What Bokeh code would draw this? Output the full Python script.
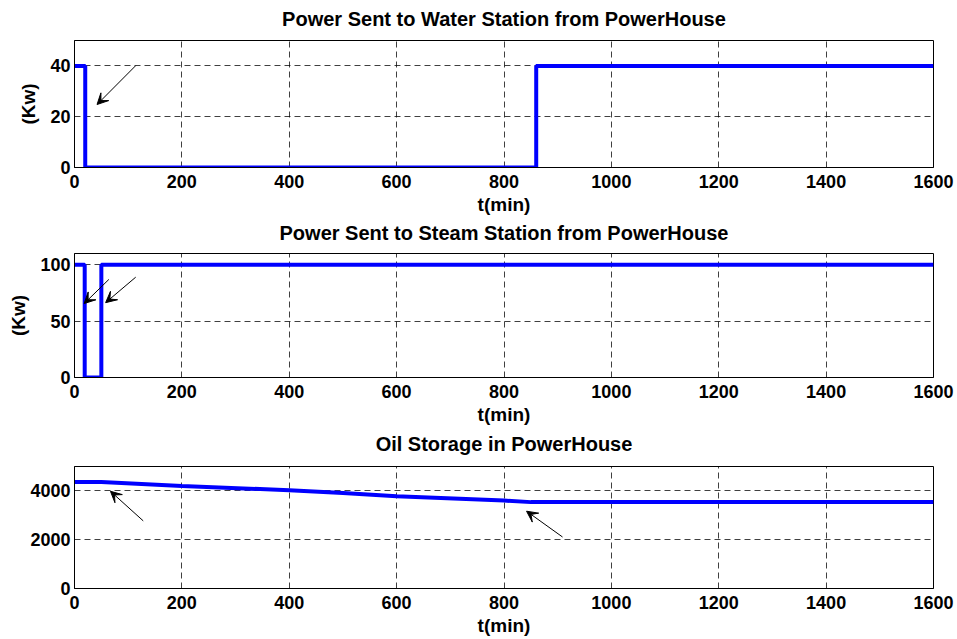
from bokeh.plotting import figure
from bokeh.layouts import column
from bokeh.models import Range1d, Arrow, VeeHead, FixedTicker, LinearAxis
from bokeh.embed import file_html
from bokeh.resources import INLINE

# ---- data ----
t_water = [0, 20, 860, 1600]
p_water = [40, 0, 40, 40]

t_steam = [0, 19, 50, 1600]
p_steam = [100, 0, 100, 100]

t_oil = [0, 50, 200, 400, 500, 600, 800, 850, 1600]
v_oil = [4364, 4360, 4198, 4028, 3909, 3778, 3604, 3540, 3540]

titles = ["Power Sent to Water Station from PowerHouse",
          "Power Sent to Steam Station from PowerHouse",
          "Oil Storage in PowerHouse"]
x_ticks = [0, 200, 400, 600, 800, 1000, 1200, 1400, 1600]

FONT = "Liberation Sans"
W = 957


def style_axis(ax):
    ax.major_tick_out = 0
    ax.major_tick_in = 0
    ax.minor_tick_out = 0
    ax.minor_tick_in = 0
    ax.axis_line_color = "black"
    ax.major_label_text_font = FONT
    ax.major_label_text_font_size = "18px"
    ax.major_label_text_font_style = "bold"
    ax.major_label_text_color = "black"
    ax.axis_label_text_font = FONT
    ax.axis_label_text_font_size = "19px"
    ax.axis_label_text_font_style = "bold"
    ax.axis_label_text_color = "black"


def make_fig(height, top, bottom, yrange, yticks, title, title_standoff, ylabel):
    p = figure(width=W, height=height, output_backend="svg", toolbar_location=None,
               x_range=Range1d(0, 1600), y_range=Range1d(*yrange),
               min_border_left=74, min_border_right=24,
               min_border_top=top, min_border_bottom=bottom)
    bx = p.below[0]
    ly = p.left[0]
    style_axis(bx)
    style_axis(ly)
    bx.ticker = FixedTicker(ticks=x_ticks)
    bx.axis_label = "t(min)"
    bx.major_label_standoff = 7
    bx.axis_label_standoff = 3
    ly.ticker = FixedTicker(ticks=yticks)
    ly.major_label_standoff = 4
    ly.axis_label_standoff = 8
    if ylabel:
        ly.axis_label = ylabel
    # title drawn as the label of an empty axis above the frame
    tax = LinearAxis(ticker=FixedTicker(ticks=[]), axis_label=title,
                     axis_label_standoff=title_standoff, axis_line_color=None,
                     major_tick_out=0, major_tick_in=0, minor_tick_out=0, minor_tick_in=0,
                     axis_label_text_font=FONT, axis_label_text_font_size="20px",
                     axis_label_text_font_style="bold", axis_label_text_color="black")
    p.add_layout(tax, "above")
    p.outline_line_color = "black"
    p.outline_line_width = 1
    p.outline_line_alpha = 1
    for g in (p.xgrid[0], p.ygrid[0]):
        g.grid_line_color = "black"
        g.grid_line_alpha = 0.75
        g.grid_line_dash = "6 4"
        g.grid_line_width = 1
    p.background_fill_color = "white"
    p.border_fill_color = "white"
    return p


def arrow(fig, xs, ys, xe, ye):
    fig.add_layout(Arrow(end=VeeHead(size=11, fill_color="black", line_color="black", line_width=1),
                         x_start=xs, y_start=ys, x_end=xe, y_end=ye,
                         line_color="black", line_width=1))


p1 = make_fig(218, 40, 51, (0, 50), [0, 20, 40], titles[0], 11, "(Kw)")
p1.step(t_water, p_water, mode="after", line_color="#0000ff", line_width=4)
arrow(p1, 114, 40.1, 42, 24.8)

p2 = make_fig(211, 33, 52, (0, 110), [0, 50, 100], titles[1], 10, "(Kw)")
p2.step(t_steam, p_steam, mode="after", line_color="#0000ff", line_width=4)
arrow(p2, 64, 87, 18, 65.6)
arrow(p2, 114, 89, 58, 66.4)

p3 = make_fig(210, 33, 51, (0, 5000), [0, 2000, 4000], titles[2], 12, None)
p3.line(t_oil, v_oil, line_color="#0000ff", line_width=4)
arrow(p3, 128, 2772, 67, 3984)
arrow(p3, 909, 2111, 842, 3168)

layout = column(p1, p2, p3, spacing=0)
open("out.html", "w").write(file_html(layout, INLINE))
